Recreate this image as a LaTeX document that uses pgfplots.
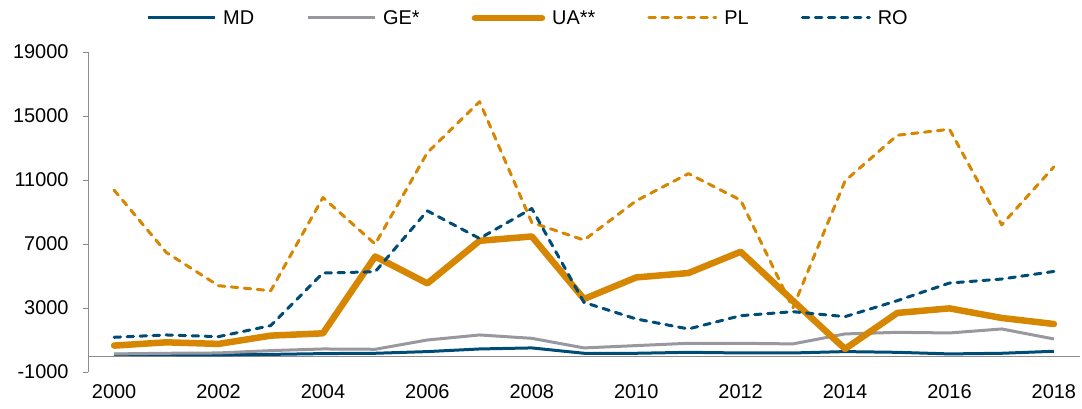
\documentclass[border=0pt]{standalone}
\usepackage{fontspec}
\setmainfont{Liberation Sans}
\usepackage{pgfplots}
\pgfplotsset{compat=1.18}
\definecolor{mdblue}{RGB}{0,76,118}
\definecolor{uaorange}{RGB}{214,134,0}
\definecolor{gegrey}{RGB}{152,152,158}
\definecolor{axgrey}{RGB}{140,140,140}
\begin{document}
\begin{tikzpicture}
\begin{axis}[
  scale only axis, width=992bp, height=320bp,
  xmin=1999.5, xmax=2018.5, ymin=-1000, ymax=19000,
  axis y line*=left, axis x line*=bottom,
  x axis line style={draw=none},
  y axis line style={axgrey, line width=0.8bp},
  ytick={-1000,3000,7000,11000,15000,19000},
  xtick={2000,2002,...,2018},
  scaled y ticks=false,
  major tick length=5bp,
  tick align=outside,
  ytick style={axgrey, line width=0.8bp},
  xtick style={draw=none},
  tick label style={font=\fontsize{20}{24}\selectfont},
  /pgf/number format/assume math mode=true,
  /pgf/number format/1000 sep={},
  yticklabel style={xshift=-11bp},
  xticklabel style={yshift=-4bp},
  legend columns=-1,
  legend image code/.code={\draw[#1] (0bp,0bp) -- (67bp,0bp);},
  legend style={draw=none, fill=none, inner sep=0pt, at={(rel axis cs:0,1)}, anchor=west, xshift=58bp, yshift=34bp,
    font=\fontsize{20}{24}\selectfont,
    nodes={inner sep=0pt},
    /tikz/every even column/.append style={column sep=52bp},
    /tikz/every odd column/.append style={column sep=7bp}},
  clip=false,
]
\coordinate (sw) at (rel axis cs:0,0);
\draw[axgrey, line width=0.8bp] (axis cs:1999.5,0) -- (axis cs:2018.5,0);
\addplot[mdblue, line width=3bp, line join=round] coordinates {
(2000,100) (2001,80) (2002,70) (2003,100) (2004,150) (2005,170) (2006,275) (2007,440) (2008,505) (2009,170)
(2010,170) (2011,230) (2012,190) (2013,190) (2014,275) (2015,230) (2016,130) (2017,170) (2018,295)};
\addlegendentry{MD}
\addplot[gegrey, line width=3bp, line join=round] coordinates {
(2000,130) (2001,170) (2002,190) (2003,337) (2004,440) (2005,420) (2006,1000) (2007,1315) (2008,1105) (2009,505)
(2010,650) (2011,795) (2012,795) (2013,755) (2014,1380) (2015,1480) (2016,1440) (2017,1690) (2018,1065)};
\addlegendentry{GE*}
\addplot[uaorange, line width=6.5bp, line join=round, line cap=round] coordinates {
(2000,650) (2001,855) (2002,755) (2003,1273) (2004,1417) (2005,6220) (2006,4537) (2007,7200) (2008,7470) (2009,3563)
(2010,4911) (2011,5185) (2012,6515) (2013,3457) (2014,443) (2015,2690) (2016,2977) (2017,2377) (2018,2000)};
\addlegendentry{UA**}
\addplot[uaorange, line width=3bp, line join=round, line cap=round, dash pattern=on 6.5bp off 6.5bp] coordinates {
(2000,10365) (2001,6470) (2002,4393) (2003,4080) (2004,9903) (2005,6995) (2006,12711) (2007,15894) (2008,8343) (2009,7245)
(2010,9700) (2011,11400) (2012,9740) (2013,3000) (2014,10945) (2015,13796) (2016,14170) (2017,8200) (2018,11820)};
\addlegendentry{PL}
\addplot[mdblue, line width=3bp, line join=round, line cap=round, dash pattern=on 6.5bp off 6.5bp] coordinates {
(2000,1170) (2001,1315) (2002,1210) (2003,1900) (2004,5185) (2005,5265) (2006,9073) (2007,7345) (2008,9217) (2009,3350)
(2010,2315) (2011,1690) (2012,2520) (2013,2770) (2014,2460) (2015,3457) (2016,4560) (2017,4810) (2018,5285)};
\addlegendentry{RO}
\end{axis}
\pgfresetboundingbox
\path ([shift={(-88bp,-37bp)}]sw) rectangle ([shift={(994bp,372bp)}]sw);
\end{tikzpicture}
\end{document}
